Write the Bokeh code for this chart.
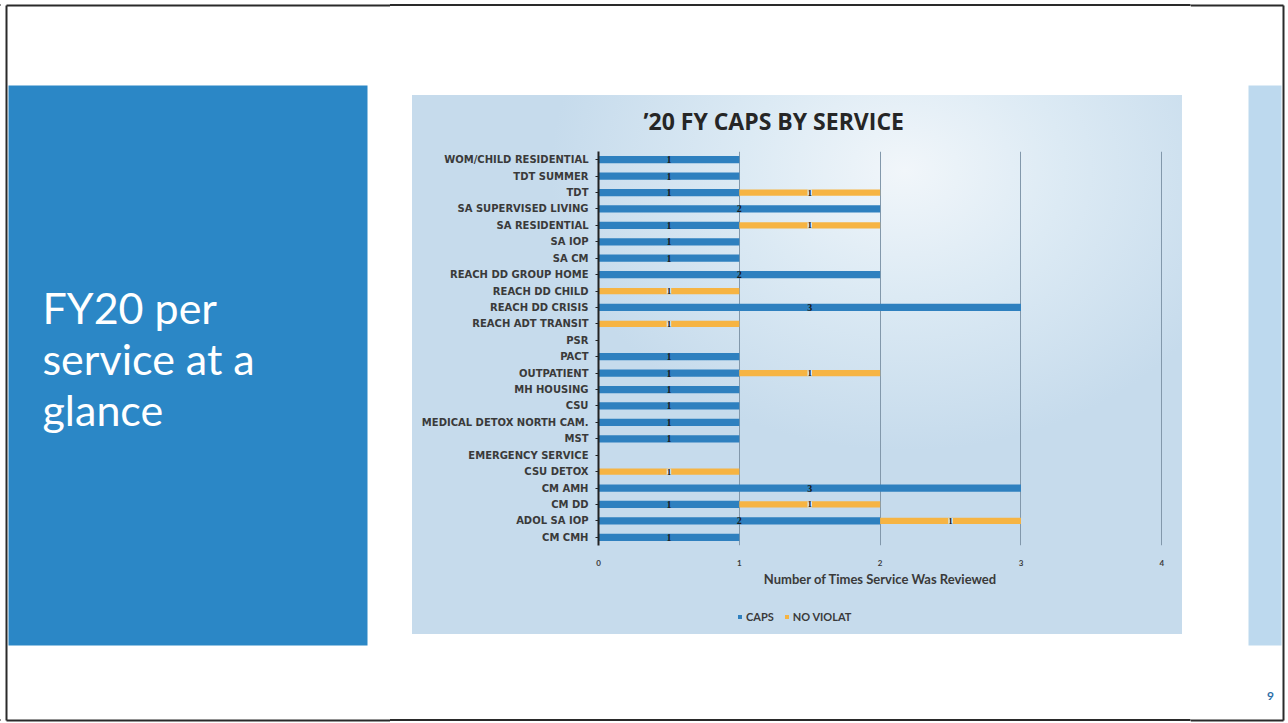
from bokeh.plotting import figure
from bokeh.layouts import row, column
from bokeh.models import (ColumnDataSource, LabelSet, Legend, LegendItem,
                          FactorRange, FixedTicker, Range1d, Spacer)
from bokeh.core.properties import value
from bokeh.embed import file_html
from bokeh.resources import INLINE

# ---------------- data (top to bottom as shown) ----------------
services = [
    "WOM/CHILD RESIDENTIAL", "TDT SUMMER", "TDT", "SA SUPERVISED LIVING",
    "SA RESIDENTIAL", "SA IOP", "SA CM", "REACH DD GROUP HOME", "REACH DD CHILD",
    "REACH DD CRISIS", "REACH ADT TRANSIT", "PSR", "PACT", "OUTPATIENT",
    "MH HOUSING", "CSU", "MEDICAL DETOX NORTH CAM.", "MST", "EMERGENCY SERVICE",
    "CSU DETOX", "CM AMH", "CM DD", "ADOL SA IOP", "CM CMH",
]
caps = [1, 1, 1, 2, 1, 1, 1, 2, 0, 3, 0, 0, 1, 1, 1, 1, 1, 1, 0, 0, 3, 1, 2, 1]
no_violat = [0, 0, 1, 0, 1, 0, 0, 0, 1, 0, 1, 0, 0, 1, 0, 0, 0, 0, 0, 1, 0, 1, 1, 0]
x_ticks = [0, 1, 2, 3, 4]

chart_title = "\u201920 FY CAPS BY SERVICE"
x_title = "Number of Times Service Was Reviewed"
series_names = ["CAPS", "NO VIOLAT"]
slide_lines = ["FY20 per", "service at a", "glance"]
page_no = "9"

# ---------------- styling ----------------
BLUE = "#2E80BF"
ORANGE = "#F6B443"
CHART_BG = "#C6DBEC"
LABEL_BG = "#D6E7F2"
PANEL = "#2B87C6"
STRIP = "#BDD9EE"
TXT = "#3a3a3a"
FONT = "Lato"
LABEL_FONT = "DejaVu Sans"
EDGE = "#2a2a2a"


def deco(x0, x1, y0, y1):
    """A decoration canvas whose coordinates are page pixels."""
    f = figure(width=x1 - x0, height=y1 - y0,
               x_range=Range1d(x0, x1), y_range=Range1d(y1, y0),
               x_axis_type=None, y_axis_type=None,
               output_backend="svg", toolbar_location=None,
               min_border=0, margin=(0, 0, 0, 0))
    f.grid.visible = False
    f.outline_line_color = None
    f.background_fill_color = "white"
    f.border_fill_color = "white"
    return f


# ---------- left column: slide border + blue title panel ----------
left = deco(0, 390, 0, 723)
left.segment(x0=[6, 6, 6], y0=[5, 5, 720], x1=[6, 390, 390], y1=[720, 5, 720],
             line_color=EDGE, line_width=2)
left.quad(left=[8], right=[367], top=[85], bottom=[645], fill_color=PANEL, line_color=None)
left.text(x=[42] * len(slide_lines), y=[307 + 51 * i for i in range(len(slide_lines))],
          text=slide_lines, text_color="white", text_font=value(FONT),
          text_font_size="43px", text_baseline="alphabetic", text_align="left")

# ---------- right column: light strip + page number ----------
right = deco(1190, 1288, 0, 723)
right.segment(x0=[1190, 1190, 1283], y0=[5, 720, 5], x1=[1283, 1283, 1283], y1=[5, 720, 720],
              line_color=EDGE, line_width=2)
right.quad(left=[1248], right=[1281], top=[85], bottom=[645], fill_color=STRIP, line_color=None)
right.text(x=[1270], y=[695], text=[page_no], text_color="#2E6FA8", text_font=value(FONT),
           text_font_style="bold", text_font_size="12px", text_baseline="middle",
           text_align="center")

# ---------- chart: canvas y 80..600 (visible box 95..634) ; frame x 598..1162, y 151..545 ----------
CH_L, CH_R, CH_T, CH_B, LG_B = 412, 1182, 95, 600, 634
P_TOP = 80
FR_L, FR_R, FR_T, FR_B = 598, 1162, 151, 545

src = ColumnDataSource(dict(
    svc=services,
    caps=caps,
    nv_left=caps,
    nv_right=[c + n for c, n in zip(caps, no_violat)],
))

p = figure(width=CH_R - CH_L, height=CH_B - P_TOP,
           y_range=FactorRange(factors=list(reversed(services))),
           x_range=Range1d(0, 4.005),
           output_backend="svg", toolbar_location=None,
           min_border_left=FR_L - CH_L, min_border_right=CH_R - FR_R,
           min_border_top=FR_T - P_TOP, min_border_bottom=CH_B - FR_B,
           margin=(0, 1190 - CH_R, 0, CH_L - 390))
p.border_fill_color = None
p.background_fill_color = None
p.outline_line_color = None

p.title.text = chart_title
p.title.align = "left"
p.title.offset = 643 - FR_L
p.title.text_font = "Open Sans"
p.title.text_font_style = "bold"
p.title.text_font_size = "23px"
p.title.text_color = "#262626"
p.title.standoff = 29

r_caps = p.hbar(y="svc", left=0, right="caps", height=0.44, source=src,
                fill_color=BLUE, line_color=None)
r_nv = p.hbar(y="svc", left="nv_left", right="nv_right", height=0.38, source=src,
              fill_color=ORANGE, line_color=None)

cap_idx = [i for i, c in enumerate(caps) if c > 0]
lab_caps = ColumnDataSource(dict(
    svc=[services[i] for i in cap_idx],
    x=[caps[i] / 2 for i in cap_idx],
    t=[str(caps[i]) for i in cap_idx],
))
nv_idx = [i for i, n in enumerate(no_violat) if n > 0]
lab_nv = ColumnDataSource(dict(
    svc=[services[i] for i in nv_idx],
    x=[caps[i] + no_violat[i] / 2 for i in nv_idx],
    t=[str(no_violat[i]) for i in nv_idx],
))
p.add_layout(LabelSet(x="x", y="svc", text="t", source=lab_caps, text_align="center",
                      text_baseline="middle", text_font=FONT, text_font_style="bold",
                      text_font_size="10px", text_color="#1a1a1a"))
p.add_layout(LabelSet(x="x", y="svc", text="t", source=lab_nv, text_align="center",
                      text_baseline="middle", text_font=FONT, text_font_style="bold",
                      text_font_size="9px", text_color="#1a1a1a",
                      background_fill_color=LABEL_BG, background_fill_alpha=1))

p.xaxis.ticker = FixedTicker(ticks=x_ticks)
p.xaxis.axis_line_color = None
p.xaxis.major_tick_line_color = None
p.xaxis.minor_tick_line_color = None
p.xaxis.major_label_standoff = 8
p.xaxis.major_label_text_font = FONT
p.xaxis.major_label_text_font_style = "bold"
p.xaxis.major_label_text_font_size = "8px"
p.xaxis.major_label_text_color = TXT
p.xaxis.axis_label = x_title
p.xaxis.axis_label_text_font = FONT
p.xaxis.axis_label_text_font_style = "bold"
p.xaxis.axis_label_text_font_size = "13px"
p.xaxis.axis_label_text_color = TXT
p.xaxis.axis_label_standoff = 2

p.yaxis.axis_line_color = "#222222"
p.yaxis.axis_line_width = 2
p.yaxis.major_tick_line_color = "#222222"
p.yaxis.major_tick_out = 3
p.yaxis.major_tick_in = 0
p.yaxis.major_label_standoff = 7
p.yaxis.major_label_text_font = LABEL_FONT
p.yaxis.major_label_text_font_style = "bold"
p.yaxis.major_label_text_font_size = "10px"
p.yaxis.major_label_text_color = TXT

p.xgrid.ticker = FixedTicker(ticks=x_ticks[1:])
p.xgrid.grid_line_color = "#8298ab"
p.xgrid.grid_line_width = 1
p.ygrid.grid_line_color = None

# ---------- legend strip under the chart (y 600..634) ----------
lg = figure(width=CH_R - CH_L, height=LG_B - CH_B,
            x_range=Range1d(10, 11), y_range=FactorRange(factors=list(reversed(services))),
            x_axis_type=None, y_axis_type=None, output_backend="svg",
            toolbar_location=None, min_border=0,
            min_border_left=FR_L - CH_L, min_border_right=CH_R - FR_R,
            margin=(0, 1190 - CH_R, 0, CH_L - 390))
lg.grid.visible = False
lg.outline_line_color = None
lg.background_fill_color = None
lg.border_fill_color = None
# same series (zero height, outside this strip's range): only their legend swatches show
g_caps = lg.hbar(y="svc", left=0, right="caps", height=0, source=src,
                 fill_color=BLUE, line_color=None)
g_nv = lg.hbar(y="svc", left="nv_left", right="nv_right", height=0, source=src,
               fill_color=ORANGE, line_color=None)
legend = Legend(items=[LegendItem(label=series_names[0], renderers=[g_caps], index=0),
                       LegendItem(label=series_names[1], renderers=[g_nv], index=2)],
                orientation="horizontal", location=(737 - FR_L, 11),
                background_fill_alpha=0, border_line_color=None,
                label_text_font=FONT, label_text_font_style="bold",
                label_text_font_size="11px", label_text_color=TXT,
                glyph_width=5, glyph_height=5, spacing=10, margin=0,
                label_standoff=4, padding=2)
lg.add_layout(legend, "center")

chart_bg = (f"radial-gradient(ellipse 46% 52% at 64% 14%, #F1F6FA 0%, #DCEAF4 45%, {CHART_BG} 100%) "
            f"{CH_L - 390}px {CH_T}px / {CH_R - CH_L}px {LG_B - CH_T}px no-repeat")
middle = column(Spacer(width=800, height=P_TOP), p, lg, Spacer(width=800, height=723 - LG_B),
                spacing=0, margin=(0, 0, 0, 0), styles={"background": chart_bg})

page = row(left, middle, right, spacing=0, margin=(0, 0, 0, 0),
           styles={"background": "linear-gradient(#2a2a2a,#2a2a2a) 0 4px / 100% 2px no-repeat, "
                                 "linear-gradient(#2a2a2a,#2a2a2a) 0 719px / 100% 2px no-repeat"})

open("out.html", "w").write(file_html(page, INLINE))
